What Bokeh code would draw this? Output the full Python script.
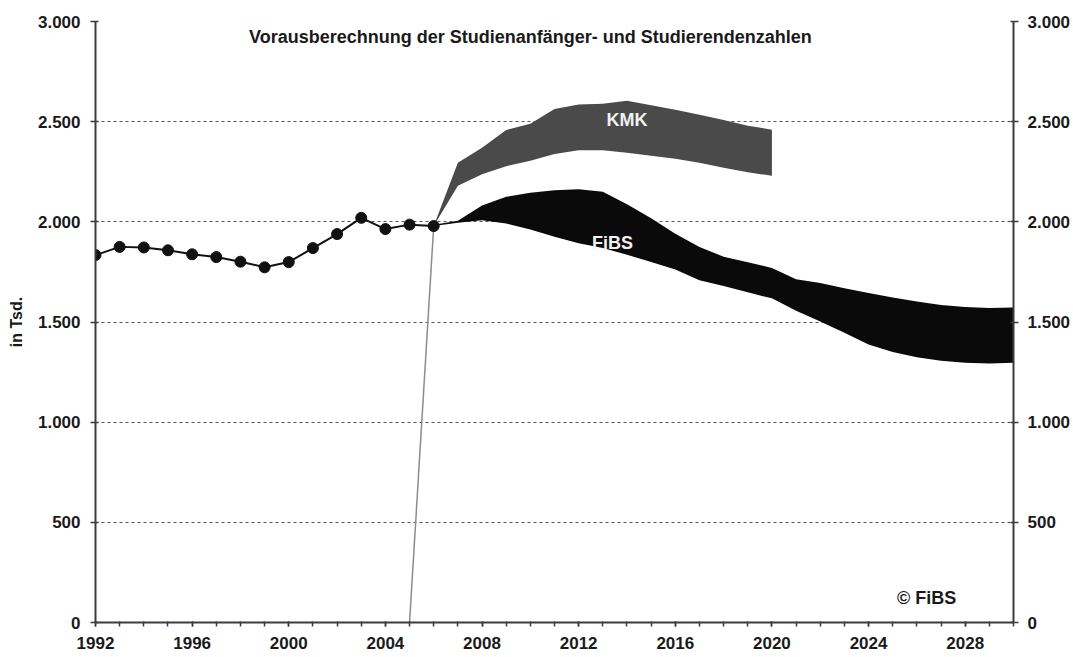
from bokeh.plotting import figure
from bokeh.models import LinearAxis, FixedTicker, Label
from bokeh.embed import file_html
from bokeh.resources import INLINE

# ---- data (in Tsd.) ----
hist_years = list(range(1992, 2007))
hist_students = [1834, 1875, 1872, 1858, 1838, 1824, 1801, 1773, 1799, 1869,
                 1939, 2020, 1964, 1986, 1979]

kmk_years = list(range(2005, 2021))
kmk_lower = [0, 1979, 2180, 2237, 2278, 2305, 2338, 2357, 2357, 2345, 2330,
             2315, 2295, 2270, 2247, 2230]
kmk_upper = [0, 1979, 2295, 2370, 2458, 2490, 2563, 2586, 2590, 2605, 2582,
             2560, 2535, 2508, 2480, 2460]

fibs_years = list(range(2006, 2031))
fibs_upper = [1985, 2005, 2082, 2125, 2145, 2158, 2163, 2150, 2088, 2018,
              1940, 1875, 1826, 1798, 1770, 1714, 1695, 1668, 1645, 1622,
              1602, 1585, 1575, 1570, 1573]
fibs_lower = [1979, 1995, 2008, 1992, 1962, 1925, 1893, 1870, 1836, 1800,
              1762, 1708, 1680, 1648, 1618, 1556, 1503, 1446, 1388, 1350,
              1324, 1306, 1297, 1293, 1297]

x_major = list(range(1992, 2030, 4))
x_minor = list(range(1992, 2031))
y_ticks = [0, 500, 1000, 1500, 2000, 2500, 3000]
y_labels = {t: f"{t:,}".replace(",", ".") for t in y_ticks}

title_text = "Vorausberechnung der Studienanfänger- und Studierendenzahlen"

FONT = "Liberation Sans"
AXIS_COL = "#3c3c3c"

p = figure(width=1073, height=657, x_range=(1992, 2030), y_range=(0, 3000),
           output_backend="svg", toolbar_location=None,
           min_border_left=95, min_border_right=60, min_border_top=21,
           min_border_bottom=35, x_axis_location=None, y_axis_location=None)
p.outline_line_color = None
p.background_fill_color = "white"
p.border_fill_color = "white"

# grid
p.xgrid.visible = False
p.ygrid.ticker = FixedTicker(ticks=y_ticks)
p.ygrid.grid_line_color = "#555555"
p.ygrid.grid_line_dash = "3 3"
p.ygrid.grid_line_width = 1


def style_axis(ax):
    ax.axis_line_color = AXIS_COL
    ax.axis_line_width = 2
    ax.major_tick_line_color = AXIS_COL
    ax.minor_tick_line_color = AXIS_COL
    ax.major_tick_line_width = 1.5
    ax.minor_tick_line_width = 1.5
    ax.major_label_text_font = FONT
    ax.major_label_text_font_style = "bold"
    ax.major_label_text_font_size = "17px"
    ax.major_label_text_color = "#1a1a1a"


# y axes
for side in ("left", "right"):
    ax = LinearAxis(ticker=FixedTicker(ticks=y_ticks), major_label_overrides=y_labels)
    style_axis(ax)
    ax.major_tick_out = 5
    ax.major_tick_in = 3
    ax.minor_tick_out = 0
    ax.minor_tick_in = 0
    ax.major_label_standoff = 10 if side == "left" else 9
    if side == "left":
        ax.axis_label = "in Tsd."
        ax.axis_label_text_font = FONT
        ax.axis_label_text_font_style = "bold"
        ax.axis_label_text_font_size = "16px"
        ax.axis_label_standoff = 10
        ax.axis_label_text_color = "#1a1a1a"
    p.add_layout(ax, side)

# x axis
xax = LinearAxis(ticker=FixedTicker(ticks=x_major, minor_ticks=x_minor))
style_axis(xax)
xax.major_tick_out = 4
xax.major_tick_in = 1
xax.minor_tick_out = 4
xax.minor_tick_in = 1
xax.major_label_standoff = 10
p.add_layout(xax, "below")

# bands
p.varea(x=kmk_years, y1=kmk_lower, y2=kmk_upper, fill_color="#4a4a4a")
p.varea(x=fibs_years, y1=fibs_lower, y2=fibs_upper, fill_color="#0a0a0a")

# thin grey connector of the KMK series
p.line(kmk_years[:2], kmk_lower[:2], line_color="#8c8c8c", line_width=1.5)

# historical series
p.line(hist_years, hist_students, line_color="#111111", line_width=2)
p.scatter(hist_years, hist_students, size=11, fill_color="#111111",
          line_color="#111111")

# texts
p.add_layout(Label(x=2010.0, y=2925, text=title_text, text_align="center",
                   text_baseline="middle", text_font=FONT,
                   text_font_style="bold", text_font_size="18px",
                   text_color="#1a1a1a"))
p.add_layout(Label(x=2014.0, y=2510, text="KMK", text_align="center",
                   text_baseline="middle", text_font=FONT,
                   text_font_style="bold", text_font_size="18px",
                   text_color="#f2f2f2"))
p.add_layout(Label(x=2013.4, y=1895, text="FiBS", text_align="center",
                   text_baseline="middle", text_font=FONT,
                   text_font_style="bold", text_font_size="18px",
                   text_color="#f2f2f2"))
p.add_layout(Label(x=2026.4, y=122, text="© FiBS", text_align="center",
                   text_baseline="middle", text_font=FONT,
                   text_font_style="bold", text_font_size="18px",
                   text_color="#1a1a1a"))

open("out.html", "w").write(file_html(p, INLINE))
